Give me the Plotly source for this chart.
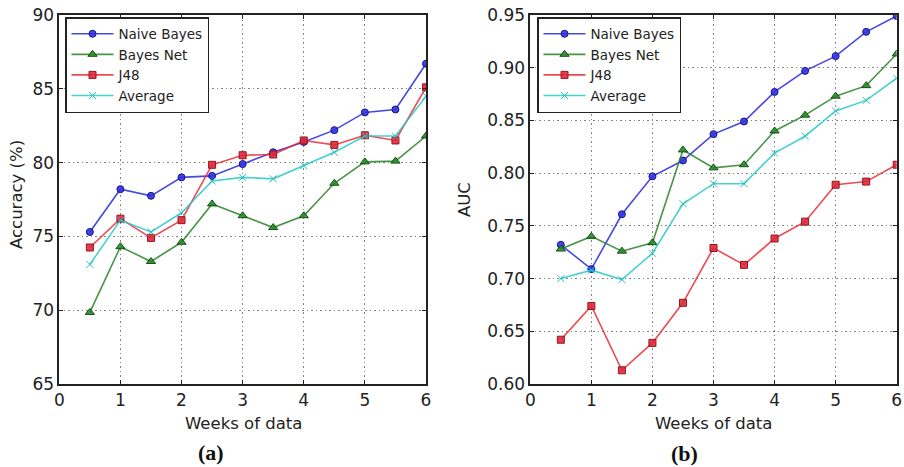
import plotly.graph_objects as go

# Weeks of data used for training
weeks = [0.5, 1, 1.5, 2, 2.5, 3, 3.5, 4, 4.5, 5, 5.5, 6]

# (a) Accuracy (%)
acc_naive_bayes = [75.3, 78.2, 77.75, 79.0, 79.1, 79.9, 80.7, 81.4, 82.2, 83.4, 83.6, 86.7]
acc_bayes_net = [69.85, 74.3, 73.3, 74.6, 77.2, 76.4, 75.6, 76.4, 78.6, 80.05, 80.1, 81.8]
acc_j48 = [74.25, 76.2, 74.9, 76.1, 79.85, 80.5, 80.55, 81.5, 81.2, 81.85, 81.5, 85.1]
acc_average = [73.1, 76.1, 75.3, 76.6, 78.75, 79.0, 78.9, 79.8, 80.7, 81.8, 81.8, 84.5]

# (b) AUC
auc_naive_bayes = [0.732, 0.709, 0.761, 0.797, 0.812, 0.837, 0.849, 0.877, 0.897, 0.911, 0.934, 0.949]
auc_bayes_net = [0.728, 0.740, 0.726, 0.734, 0.822, 0.805, 0.808, 0.840, 0.855, 0.873, 0.883, 0.913]
auc_j48 = [0.642, 0.674, 0.613, 0.639, 0.677, 0.729, 0.713, 0.738, 0.754, 0.789, 0.792, 0.808]
auc_average = [0.700, 0.708, 0.699, 0.724, 0.771, 0.790, 0.790, 0.819, 0.835, 0.859, 0.869, 0.890]

series_names = ["Naive Bayes", "Bayes Net", "J48", "Average"]
x_ticks = [0, 1, 2, 3, 4, 5, 6]
acc_ticks = [65, 70, 75, 80, 85, 90]
auc_ticks = [0.60, 0.65, 0.70, 0.75, 0.80, 0.85, 0.90, 0.95]

W, H = 904, 467
FONT = "DejaVu Sans"

styles = [
    dict(line="rgba(40,40,220,0.85)", fill="rgba(50,50,230,0.9)", edge="rgba(20,20,140,1)", symbol="circle", size=7),
    dict(line="rgba(40,130,40,0.85)", fill="rgba(40,140,40,0.9)", edge="rgba(20,80,20,1)", symbol="triangle-up", size=8),
    dict(line="rgba(235,40,50,0.85)", fill="rgba(225,40,60,0.9)", edge="rgba(150,20,30,1)", symbol="square", size=7),
    dict(line="rgba(40,200,200,0.85)", fill="rgba(40,200,200,0.9)", edge="rgba(40,190,190,1)", symbol="x-thin", size=7),
]

fig = go.Figure()

panels = [
    ("x", "y", "legend", [acc_naive_bayes, acc_bayes_net, acc_j48, acc_average]),
    ("x2", "y2", "legend2", [auc_naive_bayes, auc_bayes_net, auc_j48, auc_average]),
]
for xa, ya, leg, data in panels:
    for name, vals, st in zip(series_names, data, styles):
        fig.add_trace(go.Scatter(
            x=weeks, y=vals, name=name, mode="lines+markers",
            xaxis=xa, yaxis=ya, legend=leg,
            line=dict(color=st["line"], width=1.6),
            marker=dict(symbol=st["symbol"], size=st["size"], color=st["fill"],
                        line=dict(color=st["edge"], width=1)),
        ))

def px_x(v):
    return v / W

def px_y(v):
    return 1 - v / H

axis_common = dict(
    showline=True, mirror="ticks", linecolor="#222", linewidth=1.6,
    ticks="inside", ticklen=4, tickwidth=1, tickcolor="#222",
    showgrid=True, gridcolor="rgba(90,90,90,0.75)", griddash="1.5px,3px", gridwidth=1,
    zeroline=False, automargin=False,
    tickfont=dict(family=FONT, size=17, color="#222"),
)

legend_common = dict(
    xanchor="left", yanchor="top",
    bordercolor="#222", borderwidth=1.5, bgcolor="white",
    font=dict(family=FONT, size=13.5, color="#222"), tracegroupgap=0,
    itemwidth=42,
)

dom_y = [px_y(384), px_y(15)]
fig.update_layout(
    width=W, height=H, template="none",
    margin=dict(l=0, r=0, t=0, b=0),
    paper_bgcolor="white", plot_bgcolor="white",
    font=dict(family=FONT, color="#222"),
    xaxis=dict(domain=[px_x(59.3), px_x(426)], range=[0, 6], tickvals=x_ticks, anchor="y", **axis_common),
    yaxis=dict(domain=dom_y, range=[65, 90], tickvals=acc_ticks, anchor="x", **axis_common),
    xaxis2=dict(domain=[px_x(530.3), px_x(896.7)], range=[0, 6], tickvals=x_ticks, anchor="y2", **axis_common),
    yaxis2=dict(domain=dom_y, range=[0.60, 0.95], tickvals=auc_ticks, tickformat=".2f", anchor="x2", **axis_common),
    legend=dict(x=px_x(65), y=px_y(17), **legend_common),
    legend2=dict(x=px_x(537), y=px_y(17), **legend_common),
    showlegend=True,
)

annotations = [
    dict(text="Accuracy (%)", x=px_x(16), y=px_y(195), textangle=-90, font=dict(size=16.5)),
    dict(text="AUC", x=px_x(464), y=px_y(200), textangle=-90, font=dict(size=16.5)),
    dict(text="Weeks of data", x=px_x(243), y=px_y(423), font=dict(size=16.5)),
    dict(text="Weeks of data", x=px_x(713), y=px_y(423), font=dict(size=16.5)),
    dict(text="<b>(a)</b>", x=px_x(211), y=px_y(452), font=dict(family="Liberation Serif", size=22, color="#111")),
    dict(text="<b>(b)</b>", x=px_x(684), y=px_y(453), font=dict(family="Liberation Serif", size=22, color="#111")),
]
for a in annotations:
    a.update(xref="paper", yref="paper", showarrow=False, xanchor="center", yanchor="middle")
    a["font"] = dict(family=a["font"].get("family", FONT), size=a["font"]["size"],
                     color=a["font"].get("color", "#222"))
fig.update_layout(annotations=annotations)

fig.write_html("out.html")
